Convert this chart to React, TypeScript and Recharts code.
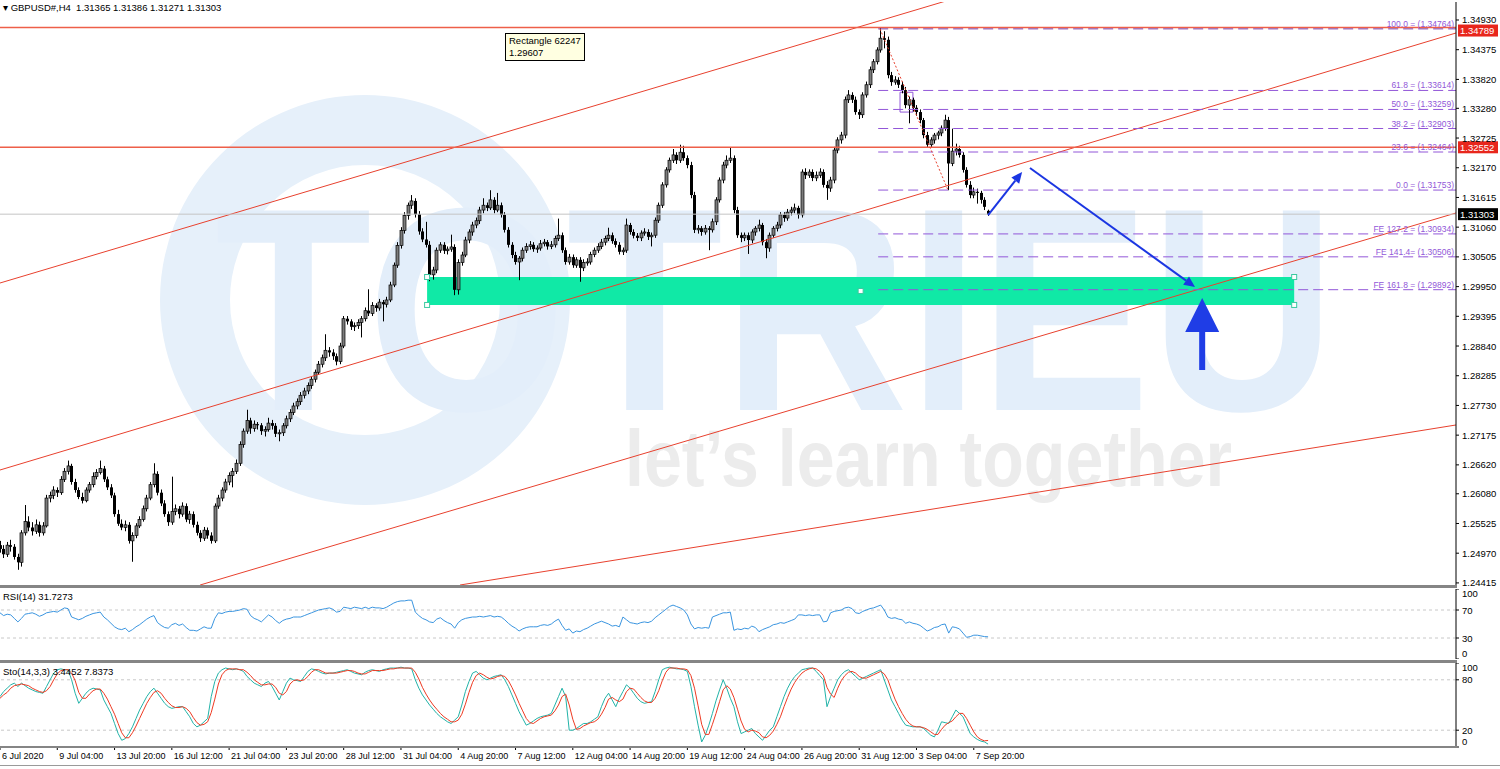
import React from "react";
import {
  ComposedChart,
  LineChart,
  Bar,
  Line,
  XAxis,
  YAxis,
  ReferenceLine,
  ReferenceArea,
  ReferenceDot,
} from "recharts";

// -------------------------
// THEME
// -------------------------
const FONT = '"Liberation Sans", Arial, sans-serif';
const H_RED = "#ee5f49";
const CH_RED = "#e8412e";
const FIB = "#9257d8";
const BLUE = "#1b36e2";
const MINT = "#10e9a6";

const X_MAX = 406.7;
const Y_MIN = 1.24376;
const Y_MAX = 1.35266;

// -------------------------
// DATA
// -------------------------
// H4 candles [open, high, low, close]
const candles: number[][] = [
  [1.2512, 1.252, 1.2498, 1.2505], [1.2505, 1.2512, 1.2488, 1.2495], [1.2495, 1.2518, 1.249, 1.2512], [1.2512, 1.2522, 1.25, 1.2509],
  [1.2509, 1.2514, 1.2485, 1.249], [1.249, 1.2496, 1.2466, 1.248], [1.248, 1.254, 1.2472, 1.2535], [1.2535, 1.2587, 1.253, 1.2556],
  [1.2556, 1.2566, 1.2538, 1.2545], [1.2545, 1.2555, 1.253, 1.2538], [1.2538, 1.256, 1.2533, 1.255], [1.255, 1.2556, 1.2528, 1.2535],
  [1.2535, 1.2555, 1.253, 1.2548], [1.2548, 1.2606, 1.2545, 1.26], [1.26, 1.2612, 1.2592, 1.2605], [1.2605, 1.2622, 1.2598, 1.2615],
  [1.2615, 1.262, 1.2602, 1.261], [1.261, 1.2641, 1.2606, 1.2635], [1.2635, 1.2656, 1.263, 1.265], [1.265, 1.267, 1.2644, 1.266],
  [1.266, 1.2664, 1.2625, 1.263], [1.263, 1.2636, 1.261, 1.2615], [1.2615, 1.262, 1.2598, 1.2602], [1.2602, 1.261, 1.259, 1.2595],
  [1.2595, 1.262, 1.2592, 1.2615], [1.2615, 1.263, 1.261, 1.2625], [1.2625, 1.2648, 1.262, 1.264], [1.264, 1.2654, 1.2635, 1.2648],
  [1.2648, 1.267, 1.2644, 1.2655], [1.2655, 1.266, 1.263, 1.2635], [1.2635, 1.264, 1.2615, 1.262], [1.262, 1.2626, 1.26, 1.2605],
  [1.2605, 1.261, 1.2565, 1.257], [1.257, 1.2578, 1.2548, 1.2552], [1.2552, 1.256, 1.254, 1.2545], [1.2545, 1.2558, 1.2538, 1.255],
  [1.255, 1.2555, 1.2515, 1.252], [1.252, 1.2536, 1.2481, 1.253], [1.253, 1.2553, 1.2525, 1.2548], [1.2548, 1.2566, 1.2544, 1.256],
  [1.256, 1.2586, 1.2556, 1.258], [1.258, 1.2606, 1.2575, 1.26], [1.26, 1.263, 1.2596, 1.2625], [1.2625, 1.2665, 1.262, 1.2645],
  [1.2645, 1.265, 1.2605, 1.261], [1.261, 1.2616, 1.2585, 1.259], [1.259, 1.2596, 1.2565, 1.257], [1.257, 1.2575, 1.2548, 1.2555],
  [1.2555, 1.264, 1.255, 1.2575], [1.2575, 1.2588, 1.2568, 1.258], [1.258, 1.2585, 1.2562, 1.257], [1.257, 1.2592, 1.2565, 1.2585],
  [1.2585, 1.259, 1.2555, 1.256], [1.256, 1.2576, 1.2552, 1.257], [1.257, 1.2575, 1.2545, 1.255], [1.255, 1.2556, 1.253, 1.2535],
  [1.2535, 1.254, 1.2518, 1.2525], [1.2525, 1.2546, 1.252, 1.254], [1.254, 1.2545, 1.2524, 1.253], [1.253, 1.2536, 1.2515, 1.252],
  [1.252, 1.259, 1.2516, 1.2585], [1.2585, 1.2606, 1.258, 1.26], [1.26, 1.262, 1.2594, 1.2615], [1.2615, 1.2636, 1.261, 1.263],
  [1.263, 1.2648, 1.2624, 1.2642], [1.2642, 1.2656, 1.262, 1.265], [1.265, 1.2672, 1.2645, 1.2665], [1.2665, 1.2706, 1.266, 1.27],
  [1.27, 1.273, 1.2694, 1.2725], [1.2725, 1.2765, 1.272, 1.2745], [1.2745, 1.275, 1.272, 1.273], [1.273, 1.2745, 1.2724, 1.2738],
  [1.2738, 1.2742, 1.2728, 1.2736], [1.2736, 1.274, 1.2718, 1.2725], [1.2725, 1.2734, 1.2715, 1.2728], [1.2728, 1.275, 1.2724, 1.274],
  [1.274, 1.2746, 1.2728, 1.2735], [1.2735, 1.274, 1.2714, 1.272], [1.272, 1.2728, 1.2706, 1.2722], [1.2722, 1.274, 1.2716, 1.2735],
  [1.2735, 1.2754, 1.273, 1.2748], [1.2748, 1.2766, 1.2742, 1.276], [1.276, 1.2778, 1.2755, 1.2772], [1.2772, 1.2786, 1.2766, 1.278],
  [1.278, 1.2798, 1.2774, 1.2792], [1.2792, 1.2806, 1.2786, 1.28], [1.28, 1.2816, 1.2794, 1.281], [1.281, 1.2828, 1.2804, 1.2822],
  [1.2822, 1.284, 1.2816, 1.2835], [1.2835, 1.2856, 1.283, 1.285], [1.285, 1.2868, 1.2844, 1.2862], [1.2862, 1.2906, 1.2856, 1.2876],
  [1.2876, 1.2882, 1.2864, 1.2872], [1.2872, 1.2878, 1.2858, 1.2865], [1.2865, 1.287, 1.2848, 1.2855], [1.2855, 1.289, 1.285, 1.2884],
  [1.2884, 1.294, 1.288, 1.2935], [1.2935, 1.294, 1.2924, 1.293], [1.293, 1.2934, 1.2914, 1.292], [1.292, 1.2928, 1.2912, 1.2922],
  [1.2922, 1.2934, 1.2916, 1.2928], [1.2928, 1.294, 1.29, 1.2935], [1.2935, 1.2956, 1.293, 1.295], [1.295, 1.299, 1.294, 1.2945],
  [1.2945, 1.2966, 1.294, 1.296], [1.296, 1.2964, 1.2948, 1.2955], [1.2955, 1.2972, 1.295, 1.2966], [1.2966, 1.297, 1.293, 1.2962],
  [1.2962, 1.2976, 1.2956, 1.297], [1.297, 1.3004, 1.2966, 1.2998], [1.2998, 1.304, 1.2994, 1.3035], [1.3035, 1.3078, 1.303, 1.3072],
  [1.3072, 1.3106, 1.3066, 1.31], [1.31, 1.3134, 1.3094, 1.3128], [1.3128, 1.3152, 1.312, 1.3147], [1.3147, 1.3166, 1.314, 1.3155],
  [1.3155, 1.316, 1.3124, 1.313], [1.313, 1.3136, 1.3092, 1.3098], [1.3098, 1.3104, 1.3078, 1.3083], [1.3083, 1.3116, 1.3068, 1.3073],
  [1.3073, 1.308, 1.3005, 1.3017], [1.3017, 1.3032, 1.3008, 1.3026], [1.3026, 1.3068, 1.302, 1.3063], [1.3063, 1.3078, 1.3058, 1.3073],
  [1.3073, 1.3078, 1.3056, 1.3062], [1.3062, 1.307, 1.3055, 1.3065], [1.3065, 1.3092, 1.306, 1.3069], [1.3069, 1.3074, 1.2979, 1.2989],
  [1.2989, 1.3046, 1.298, 1.304], [1.304, 1.306, 1.3034, 1.3054], [1.3054, 1.3088, 1.305, 1.3082], [1.3082, 1.3102, 1.3076, 1.3097],
  [1.3097, 1.3116, 1.309, 1.311], [1.311, 1.3124, 1.3104, 1.3118], [1.3118, 1.3144, 1.3112, 1.3138], [1.3138, 1.316, 1.3132, 1.3147],
  [1.3147, 1.3152, 1.3136, 1.3142], [1.3142, 1.3175, 1.3138, 1.3157], [1.3157, 1.3162, 1.3132, 1.3138], [1.3138, 1.317, 1.3134, 1.3147],
  [1.3147, 1.3152, 1.3124, 1.3129], [1.3129, 1.3134, 1.3096, 1.3101], [1.3101, 1.3106, 1.3068, 1.3073], [1.3073, 1.3078, 1.3048, 1.3054],
  [1.3054, 1.306, 1.3036, 1.3041], [1.3041, 1.3052, 1.3007, 1.3048], [1.3048, 1.3068, 1.3042, 1.3063], [1.3063, 1.3076, 1.3058, 1.307],
  [1.307, 1.308, 1.3064, 1.3073], [1.3073, 1.3078, 1.306, 1.3065], [1.3065, 1.3072, 1.3058, 1.3067], [1.3067, 1.3082, 1.3062, 1.3075],
  [1.3075, 1.3084, 1.307, 1.3078], [1.3078, 1.3082, 1.3064, 1.307], [1.307, 1.308, 1.3065, 1.3073], [1.3073, 1.309, 1.3068, 1.3085],
  [1.3085, 1.3122, 1.308, 1.3091], [1.3091, 1.3096, 1.3058, 1.3063], [1.3063, 1.3068, 1.3036, 1.3041], [1.3041, 1.3056, 1.3036, 1.305],
  [1.305, 1.3055, 1.303, 1.3035], [1.3035, 1.305, 1.303, 1.3045], [1.3045, 1.305, 1.3004, 1.303], [1.303, 1.3046, 1.3024, 1.304],
  [1.304, 1.3048, 1.3034, 1.3041], [1.3041, 1.306, 1.3036, 1.3055], [1.3055, 1.3068, 1.305, 1.3063], [1.3063, 1.3076, 1.3058, 1.307],
  [1.307, 1.3084, 1.3065, 1.3078], [1.3078, 1.309, 1.3072, 1.3085], [1.3085, 1.3105, 1.308, 1.3091], [1.3091, 1.3096, 1.3075, 1.308],
  [1.308, 1.3085, 1.3068, 1.3073], [1.3073, 1.3078, 1.3055, 1.306], [1.306, 1.3068, 1.3054, 1.3063], [1.3063, 1.3122, 1.3058, 1.311],
  [1.311, 1.3114, 1.3092, 1.3097], [1.3097, 1.3102, 1.3085, 1.309], [1.309, 1.3095, 1.308, 1.3086], [1.3086, 1.31, 1.308, 1.3095],
  [1.3095, 1.3104, 1.309, 1.3097], [1.3097, 1.3102, 1.3082, 1.3088], [1.3088, 1.3096, 1.307, 1.3091], [1.3091, 1.3124, 1.3086, 1.3119],
  [1.3119, 1.3152, 1.3114, 1.3147], [1.3147, 1.319, 1.3142, 1.3185], [1.3185, 1.3218, 1.318, 1.3213], [1.3213, 1.3236, 1.3208, 1.3231],
  [1.3231, 1.3252, 1.3226, 1.3241], [1.3241, 1.3246, 1.3224, 1.3231], [1.3231, 1.326, 1.3226, 1.3246], [1.3246, 1.3258, 1.323, 1.3235],
  [1.3235, 1.324, 1.3216, 1.3222], [1.3222, 1.3228, 1.316, 1.3166], [1.3166, 1.3172, 1.3095, 1.3101], [1.3101, 1.311, 1.3094, 1.3104],
  [1.3104, 1.3108, 1.309, 1.3097], [1.3097, 1.311, 1.3092, 1.3104], [1.3104, 1.3108, 1.3063, 1.3101], [1.3101, 1.3122, 1.3096, 1.3116],
  [1.3116, 1.3162, 1.311, 1.3157], [1.3157, 1.3199, 1.3152, 1.3194], [1.3194, 1.3228, 1.3188, 1.3222], [1.3222, 1.324, 1.3216, 1.3231],
  [1.3231, 1.3255, 1.3226, 1.3235], [1.3235, 1.324, 1.3132, 1.3138], [1.3138, 1.3144, 1.3086, 1.3091], [1.3091, 1.3096, 1.3078, 1.3086],
  [1.3086, 1.3096, 1.308, 1.3091], [1.3091, 1.3096, 1.3056, 1.3082], [1.3082, 1.3102, 1.3076, 1.3097], [1.3097, 1.3108, 1.309, 1.3104],
  [1.3104, 1.312, 1.3098, 1.311], [1.311, 1.3114, 1.3072, 1.3078], [1.3078, 1.3084, 1.3048, 1.3067], [1.3067, 1.3096, 1.306, 1.3091],
  [1.3091, 1.3108, 1.3086, 1.3104], [1.3104, 1.3116, 1.3098, 1.311], [1.311, 1.3134, 1.3104, 1.3129], [1.3129, 1.3134, 1.3116, 1.3123],
  [1.3123, 1.314, 1.3118, 1.3134], [1.3134, 1.3144, 1.3128, 1.3138], [1.3138, 1.315, 1.3132, 1.3142], [1.3142, 1.3146, 1.3122, 1.3129],
  [1.3129, 1.3214, 1.3124, 1.3209], [1.3209, 1.3216, 1.3196, 1.3203], [1.3203, 1.3214, 1.3198, 1.3209], [1.3209, 1.3214, 1.3192, 1.3198],
  [1.3198, 1.321, 1.3192, 1.3203], [1.3203, 1.3216, 1.3198, 1.3209], [1.3209, 1.3214, 1.318, 1.3185], [1.3185, 1.3192, 1.3157, 1.3179],
  [1.3179, 1.32, 1.3172, 1.3194], [1.3194, 1.3256, 1.3188, 1.325], [1.325, 1.3274, 1.3244, 1.3269], [1.3269, 1.3284, 1.3262, 1.3278],
  [1.3278, 1.335, 1.3272, 1.3344], [1.3344, 1.3362, 1.3338, 1.3353], [1.3353, 1.3358, 1.3338, 1.3344], [1.3344, 1.335, 1.3316, 1.3321],
  [1.3321, 1.3326, 1.3308, 1.3316], [1.3316, 1.3358, 1.331, 1.3353], [1.3353, 1.3378, 1.3348, 1.3372], [1.3372, 1.3406, 1.3366, 1.34],
  [1.34, 1.342, 1.3394, 1.3415], [1.3415, 1.3442, 1.341, 1.3437], [1.3437, 1.3479, 1.3432, 1.3459], [1.3459, 1.3472, 1.344, 1.3456],
  [1.3456, 1.3462, 1.3384, 1.339], [1.339, 1.3396, 1.337, 1.3377], [1.3377, 1.3388, 1.3372, 1.3381], [1.3381, 1.3386, 1.3366, 1.3372],
  [1.3372, 1.3378, 1.3356, 1.3362], [1.3362, 1.3368, 1.3328, 1.3334], [1.3334, 1.335, 1.33, 1.3344], [1.3344, 1.3348, 1.3322, 1.3329],
  [1.3329, 1.3334, 1.3314, 1.3321], [1.3321, 1.3326, 1.33, 1.3306], [1.3306, 1.331, 1.3272, 1.3278], [1.3278, 1.3284, 1.3254, 1.326],
  [1.326, 1.3274, 1.3255, 1.3269], [1.3269, 1.3282, 1.3262, 1.3278], [1.3278, 1.3286, 1.327, 1.3282], [1.3282, 1.3296, 1.3276, 1.3291],
  [1.3291, 1.3316, 1.3286, 1.3306], [1.3306, 1.3312, 1.3175, 1.3225], [1.3225, 1.329, 1.322, 1.3248], [1.3248, 1.3262, 1.324, 1.3252],
  [1.3252, 1.3258, 1.3236, 1.3241], [1.3241, 1.3246, 1.3208, 1.3213], [1.3213, 1.3218, 1.318, 1.3185], [1.3185, 1.3192, 1.316, 1.3166],
  [1.3166, 1.318, 1.316, 1.3172], [1.3172, 1.3178, 1.315, 1.317], [1.317, 1.3174, 1.315, 1.3157], [1.3157, 1.3162, 1.3138, 1.3144],
  [1.31365, 1.31386, 1.31271, 1.31303],
];

const rsi: number[] = [
  66, 62, 64, 63, 58, 53, 58, 64, 65, 66, 64, 61, 63, 66, 67, 68, 67, 70, 73, 72,
  60, 58, 56, 58, 61, 63, 65, 66, 67, 60, 56, 51, 46, 43, 42, 44, 39, 42, 46, 49,
  53, 57, 60, 62, 52, 48, 45, 44, 49, 51, 48, 50, 45, 41, 41, 40, 43, 46, 44, 44,
  58, 66, 65, 67, 68, 68, 69, 70, 72, 71, 62, 58, 56, 53, 58, 63, 60, 55, 51, 55,
  57, 58, 60, 60, 60, 62, 64, 66, 68, 70, 71, 72, 73, 71, 67, 68, 74, 73, 72, 74,
  73, 72, 74, 72, 74, 73, 73, 72, 74, 77, 80, 82, 83, 83, 84, 84, 67, 62, 58, 56,
  53, 52, 57, 59, 55, 52, 50, 44, 52, 56, 58, 59, 60, 60, 61, 60, 61, 62, 60, 61,
  60, 56, 51, 47, 44, 40, 43, 45, 46, 46, 46, 48, 49, 48, 50, 54, 57, 48, 41, 43,
  37, 40, 39, 42, 44, 47, 50, 52, 54, 52, 50, 47, 48, 46, 60, 56, 52, 51, 50, 52,
  53, 52, 54, 59, 63, 67, 71, 75, 77, 75, 73, 70, 63, 50, 43, 45, 44, 45, 44, 60,
  62, 64, 66, 66, 67, 41, 43, 42, 44, 43, 47, 45, 39, 42, 44, 46, 49, 50, 52, 51,
  53, 55, 57, 63, 63, 62, 63, 62, 63, 63, 53, 54, 66, 68, 69, 70, 73, 74, 72, 66,
  65, 68, 70, 72, 73, 75, 77, 70, 60, 58, 59, 57, 56, 51, 53, 51, 50, 48, 44, 40,
  42, 45, 46, 49, 50, 37, 46, 45, 43, 37, 31, 32, 34, 34, 33, 32, 31.7,
];

const stochK: number[] = [
  60, 66, 70, 74, 76, 72, 76, 73, 70, 68, 66, 65, 64, 72, 80, 88, 92, 93, 92, 92,
  80, 64, 52, 58, 64, 68, 70, 69, 68, 56, 48, 40, 28, 16, 8, 10, 16, 24, 34, 44,
  52, 60, 66, 70, 64, 58, 52, 48, 46, 47, 48, 48, 42, 36, 28, 24, 26, 30, 34, 60,
  78, 88, 92, 94, 93, 92, 93, 92, 90, 84, 80, 76, 74, 72, 76, 78, 72, 64, 56, 66,
  76, 82, 80, 79, 78, 84, 90, 93, 92, 90, 88, 87, 88, 88, 89, 90, 91, 92, 90, 88,
  87, 86, 89, 91, 92, 91, 90, 92, 93, 94, 94, 94, 95, 94, 94, 93, 80, 70, 62, 56,
  50, 45, 40, 36, 33, 30, 28, 32, 36, 50, 66, 78, 88, 90, 86, 82, 80, 82, 84, 85,
  86, 80, 72, 62, 52, 42, 34, 26, 28, 31, 34, 36, 37, 38, 40, 50, 60, 70, 60, 20,
  20, 22, 25, 28, 28, 30, 33, 36, 48, 58, 64, 56, 48, 58, 66, 74, 70, 64, 58, 54,
  52, 53, 54, 66, 80, 92, 94, 95, 94, 93, 93, 92, 90, 72, 48, 26, 6, 14, 26, 40,
  55, 68, 80, 70, 58, 48, 30, 16, 18, 20, 22, 16, 12, 8, 14, 20, 24, 36, 48, 60,
  70, 78, 84, 88, 92, 93, 94, 94, 90, 85, 80, 48, 60, 70, 80, 86, 90, 92, 88, 84,
  80, 82, 84, 86, 88, 90, 92, 80, 68, 56, 48, 40, 32, 26, 25, 24, 24, 24, 22, 18,
  14, 12, 20, 30, 29, 28, 36, 44, 40, 36, 26, 16, 12, 9, 7, 6, 3.4452,
];

const stochD: number[] = [
  58, 62, 65, 70, 73, 74, 75, 74, 73, 70, 68, 66, 65, 67, 72, 80, 87, 91, 92, 92,
  88, 79, 65, 58, 58, 63, 67, 69, 69, 64, 57, 48, 39, 28, 17, 11, 11, 17, 25, 34,
  43, 52, 59, 65, 67, 64, 58, 53, 49, 47, 47, 48, 46, 42, 35, 29, 26, 27, 30, 41,
  57, 75, 86, 91, 93, 93, 93, 92, 92, 89, 85, 80, 77, 74, 74, 75, 75, 71, 64, 62,
  66, 75, 79, 80, 79, 80, 84, 89, 92, 92, 90, 88, 88, 88, 88, 89, 90, 91, 91, 90,
  88, 87, 87, 89, 91, 91, 91, 91, 92, 93, 93, 94, 94, 94, 94, 94, 89, 81, 71, 63,
  56, 50, 45, 40, 36, 33, 30, 30, 32, 39, 51, 65, 77, 85, 88, 86, 83, 81, 82, 84,
  85, 84, 79, 71, 62, 52, 43, 34, 29, 28, 31, 34, 36, 37, 38, 43, 50, 60, 63, 50,
  33, 21, 22, 25, 27, 29, 30, 33, 39, 47, 57, 59, 56, 54, 57, 66, 70, 69, 64, 59,
  55, 53, 53, 58, 67, 79, 89, 94, 94, 94, 93, 93, 92, 85, 70, 49, 27, 15, 15, 27,
  40, 54, 68, 73, 69, 59, 45, 31, 21, 18, 20, 19, 17, 12, 11, 14, 19, 27, 36, 48,
  59, 69, 77, 83, 88, 91, 93, 94, 93, 90, 85, 71, 63, 59, 70, 79, 85, 89, 90, 88,
  84, 82, 82, 84, 86, 88, 90, 87, 80, 68, 57, 48, 40, 33, 28, 25, 24, 24, 23, 21,
  18, 15, 15, 21, 26, 29, 31, 36, 40, 40, 34, 26, 18, 12, 9, 7.3, 7.8373,
];

const dateLabels = [
  "6 Jul 2020", "9 Jul 04:00", "13 Jul 20:00", "16 Jul 12:00", "21 Jul 04:00", "23 Jul 20:00",
  "28 Jul 12:00", "31 Jul 04:00", "4 Aug 20:00", "7 Aug 12:00", "12 Aug 04:00", "14 Aug 20:00",
  "19 Aug 12:00", "24 Aug 04:00", "26 Aug 20:00", "31 Aug 12:00", "3 Sep 04:00", "7 Sep 20:00",
];
const labelIdx = [0, 16, 32, 48, 64, 80, 96, 112, 128, 144, 160, 176, 192, 208, 224, 240, 256, 272];

const priceTicks = [
  1.3493, 1.34375, 1.3382, 1.3328, 1.32725, 1.3217, 1.31615, 1.3106, 1.30505, 1.2995,
  1.29395, 1.2884, 1.28285, 1.2773, 1.27175, 1.2662, 1.2608, 1.25525, 1.2497, 1.24415,
];

const fibNames = [
  "100.0 = (1.34764)", "61.8 = (1.33614)", "50.0 = (1.33259)", "38.2 = (1.32903)", "23.6 = (1.32464)",
  "0.0 = (1.31753)", "FE 127.2 = (1.30934)", "FE 141.4= (1.30506)", "FE 161.8 = (1.29892)",
];
const fibValues = [1.34764, 1.33614, 1.33259, 1.32903, 1.32464, 1.31753, 1.30934, 1.30506, 1.29892];
const fibStart = 245.3;

// channel lines [x1, y1, x2, y2] in bar index / price
const channelLines = [
  [0, 1.30017, 307.3, 1.36144],
  [0, 1.26524, 406.7, 1.34687],
  [55.9, 1.24376, 406.7, 1.31325],
  [128.5, 1.24376, 406.7, 1.27365],
];

const zone = { x1: 119.3, x2: 361.5, y1: 1.29607, y2: 1.30129 };
const arrows = [
  [276.0, 1.31287, 285.5, 1.32091],
  [287.7, 1.32165, 333.8, 1.29942],
];
const bigArrow = { x: 335.8, from: 1.28392, to: 1.29737 };

const rows = candles.map(([o, h, l, c], i) => ({
  i,
  o,
  h,
  l,
  c,
  rsi: rsi[i],
  k: stochK[i],
  d: stochD[i],
}));

// -------------------------
// SHAPES
// -------------------------
const Candle = (props: any) => {
  const { x, y, width, height, payload } = props;
  if (x == null || y == null) return null;
  const { o, h, l, c } = payload;
  const cx = Math.round(x + width / 2) + 0.5;
  const ppu = height / (h - l || 1e-9);
  const yO = y + (h - o) * ppu;
  const yC = y + (h - c) * ppu;
  const top = Math.min(yO, yC);
  const bh = Math.max(1, Math.abs(yO - yC));
  const up = c >= o;
  return (
    <g>
      <line x1={cx} x2={cx} y1={y} y2={y + height} stroke="#000" strokeWidth={1} />
      <rect
        x={cx - 1.5}
        y={top}
        width={3}
        height={bh}
        fill={up ? "#7c7c7c" : "#000"}
        stroke="#000"
        strokeWidth={up ? 0.7 : 0}
      />
    </g>
  );
};

const priceBox = (bg: string, text: string, shift = 0) => (props: any) => {
  const { x1, x2, y1 } = props;
  const right = Math.max(x1, x2);
  const left = Math.min(x1, x2);
  return (
    <g>
      <line x1={left} x2={right} y1={y1} y2={y1} stroke={props.stroke} strokeWidth={props.strokeWidth} />
      <rect x={right + 2} y={y1 - 6 + shift} width={40} height={12} fill={bg} />
      <text x={right + 4} y={y1 + 3.5 + shift} fontSize={9.5} fontFamily={FONT} fill="#fff">
        {text}
      </text>
    </g>
  );
};

const fibShape = (name: string, dark: boolean) => (props: any) => {
  const { x1, x2, y1 } = props;
  const right = Math.max(x1, x2);
  const left = Math.min(x1, x2);
  return (
    <g>
      <line
        x1={left}
        x2={right}
        y1={y1}
        y2={y1}
        stroke={dark ? "#7b3fa8" : FIB}
        strokeWidth={1}
        strokeDasharray="10 5"
      />
      <text x={right - 2} y={y1 - 2} fontSize={8.5} fontFamily={FONT} fill={FIB} textAnchor="end">
        {name}
      </text>
    </g>
  );
};

const arrowShape = (props: any) => {
  const { x1, y1, x2, y2 } = props;
  const ang = Math.atan2(y2 - y1, x2 - x1);
  const len = 11;
  const wing = 5;
  const bx = x2 - len * Math.cos(ang);
  const by = y2 - len * Math.sin(ang);
  const px = -Math.sin(ang) * wing;
  const py = Math.cos(ang) * wing;
  return (
    <g>
      <line x1={x1} y1={y1} x2={bx} y2={by} stroke={BLUE} strokeWidth={2} />
      <polygon points={`${x2},${y2} ${bx + px},${by + py} ${bx - px},${by - py}`} fill={BLUE} />
    </g>
  );
};

const bigArrowShape = (props: any) => {
  const { x1, y1, y2 } = props;
  const tip = Math.min(y1, y2);
  const tail = Math.max(y1, y2);
  const base = tip + 34;
  return (
    <g>
      <rect x={x1 - 3} y={base - 1} width={6} height={tail - base + 1} fill="#1f3de6" />
      <polygon points={`${x1},${tip} ${x1 - 17},${base} ${x1 + 17},${base}`} fill="#1f3de6" />
    </g>
  );
};

const Handle = (props: any) => {
  const { cx, cy } = props;
  return <rect x={cx - 2.5} y={cy - 2.5} width={5} height={5} fill="#fff" stroke="#3cc9a0" strokeWidth={1} />;
};

const PriceTick = (props: any) => {
  const { x, y, payload } = props;
  return (
    <text x={x + 1} y={y + 3.5} fontSize={9.5} fontFamily={FONT} fill="#000">
      {Number(payload.value).toFixed(5)}
    </text>
  );
};

const indTick = (top: number, bottom: number) => (props: any) => {
  const { x, y, payload } = props;
  let dy = 3.5;
  if (payload.value === top) dy = 8;
  if (payload.value === bottom) dy = -2;
  return (
    <text x={x + 1} y={y + dy} fontSize={9.5} fontFamily={FONT} fill="#000">
      {payload.value}
    </text>
  );
};

const DateTick = (props: any) => {
  const { x, y, payload } = props;
  const k = labelIdx.indexOf(payload.value);
  return (
    <text x={x + 2} y={y + 9} fontSize={9} fontFamily={FONT} fill="#000">
      {dateLabels[k]}
    </text>
  );
};

const label: React.CSSProperties = {
  position: "absolute",
  fontFamily: FONT,
  fontSize: 9.5,
  color: "#000",
  whiteSpace: "nowrap",
  lineHeight: "11px",
};

export default function App() {
  return (
    <div
      style={{
        position: "absolute",
        left: 0,
        top: 0,
        width: 1500,
        height: 769,
        background: "#fff",
        overflow: "hidden",
      }}
    >
      {/* WATERMARK */}
      <svg width={1500} height={587} style={{ position: "absolute", left: 0, top: 0 }}>
        <circle cx={365} cy={300} r={170} fill="none" stroke="#e6f0fa" strokeWidth={70} />
        <text
          transform="translate(215,410) scale(0.884,1)"
          x={0}
          y={0}
          fontSize={290}
          fontWeight="bold"
          fontFamily={FONT}
          fill="#e3eefa"
        >
          TOTRIEU
        </text>
        <text
          transform="translate(625,486) scale(0.852,1)"
          x={0}
          y={0}
          fontSize={80}
          fontWeight="bold"
          fontFamily={FONT}
          fill="#ececec"
        >
          let’s learn together
        </text>
      </svg>

      {/* MAIN PRICE CHART */}
      <div style={{ position: "absolute", left: 0, top: 0 }}>
        <ComposedChart width={1500} height={587} data={rows} margin={{ top: 2, right: 0, bottom: 2, left: 0 }}>
          <XAxis dataKey="i" type="number" domain={[0, X_MAX]} allowDataOverflow hide />
          <YAxis
            orientation="right"
            width={44}
            type="number"
            domain={[Y_MIN, Y_MAX]}
            allowDataOverflow
            ticks={priceTicks}
            interval={0}
            tick={PriceTick}
            tickSize={3}
            tickMargin={2}
            axisLine={{ stroke: "#000" }}
            tickLine={{ stroke: "#000" }}
          />

          <ReferenceArea
            x1={zone.x1}
            x2={zone.x2}
            y1={zone.y1}
            y2={zone.y2}
            fill={MINT}
            fillOpacity={1}
            stroke="none"
          />
          <ReferenceArea x1={251.4} x2={255.0} y1={1.3321} y2={1.3358} fill="none" stroke={FIB} strokeWidth={1} />

          {channelLines.map((s, n) => (
            <ReferenceLine
              key={`ch${n}`}
              segment={[{ x: s[0], y: s[1] }, { x: s[2], y: s[3] }]}
              stroke={CH_RED}
              strokeWidth={1}
              ifOverflow="hidden"
            />
          ))}

          <ReferenceLine y={1.31303} stroke="#c4c4c4" strokeWidth={1} shape={priceBox("#000", "1.31303")} />
          <ReferenceLine y={1.34789} stroke={H_RED} strokeWidth={1.5} shape={priceBox("#e8261c", "1.34789", 3)} />
          <ReferenceLine y={1.32552} stroke={H_RED} strokeWidth={1.5} shape={priceBox("#e8261c", "1.32552")} />

          {fibValues.map((v, n) => (
            <ReferenceLine
              key={`fib${n}`}
              segment={[{ x: fibStart, y: v }, { x: X_MAX, y: v }]}
              shape={fibShape(fibNames[n], n === 0)}
            />
          ))}

          <ReferenceLine
            segment={[{ x: 245.8, y: 1.34764 }, { x: 264.8, y: 1.31753 }]}
            stroke={CH_RED}
            strokeWidth={1}
            strokeDasharray="2 2"
          />

          <Bar dataKey={(d: any) => [d.l, d.h]} barSize={3} shape={Candle} isAnimationActive={false} />

          {arrows.map((a, n) => (
            <ReferenceLine
              key={`ar${n}`}
              segment={[{ x: a[0], y: a[1] }, { x: a[2], y: a[3] }]}
              shape={arrowShape}
            />
          ))}
          <ReferenceLine
            segment={[{ x: bigArrow.x, y: bigArrow.from }, { x: bigArrow.x, y: bigArrow.to }]}
            shape={bigArrowShape}
          />

          <ReferenceDot x={zone.x1} y={zone.y2} shape={Handle} />
          <ReferenceDot x={zone.x1} y={zone.y1} shape={Handle} />
          <ReferenceDot x={zone.x2} y={zone.y2} shape={Handle} />
          <ReferenceDot x={zone.x2} y={zone.y1} shape={Handle} />
          <ReferenceDot x={(zone.x1 + zone.x2) / 2} y={(zone.y1 + zone.y2) / 2} shape={Handle} />
        </ComposedChart>
      </div>

      {/* RSI */}
      <div style={{ position: "absolute", left: 0, top: 589 }}>
        <LineChart width={1500} height={70} data={rows} margin={{ top: 0, right: 0, bottom: 0, left: 0 }}>
          <XAxis dataKey="i" type="number" domain={[0, X_MAX]} allowDataOverflow hide />
          <YAxis
            orientation="right"
            width={44}
            domain={[0, 100]}
            ticks={[0, 30, 70, 100]}
            interval={0}
            tick={indTick(100, 0)}
            tickSize={3}
            tickMargin={2}
            axisLine={{ stroke: "#000" }}
            tickLine={{ stroke: "#000" }}
          />
          <ReferenceLine y={70} stroke="#c8c8c8" strokeDasharray="3 3" />
          <ReferenceLine y={30} stroke="#c8c8c8" strokeDasharray="3 3" />
          <Line dataKey="rsi" stroke="#3a95e0" strokeWidth={1} dot={false} isAnimationActive={false} />
        </LineChart>
      </div>

      {/* STOCHASTIC */}
      <div style={{ position: "absolute", left: 0, top: 663 }}>
        <LineChart width={1500} height={104} data={rows} margin={{ top: 0, right: 0, bottom: 0, left: 0 }}>
          <XAxis
            dataKey="i"
            type="number"
            domain={[0, X_MAX]}
            allowDataOverflow
            ticks={labelIdx}
            interval={0}
            height={20}
            tick={DateTick}
            tickSize={3}
            tickMargin={0}
            axisLine={false}
            tickLine={{ stroke: "#000" }}
          />
          <YAxis
            orientation="right"
            width={44}
            domain={[0, 100]}
            ticks={[0, 20, 80, 100]}
            interval={0}
            tick={indTick(100, 0)}
            tickSize={3}
            tickMargin={2}
            axisLine={{ stroke: "#000" }}
            tickLine={{ stroke: "#000" }}
          />
          <ReferenceLine y={80} stroke="#c8c8c8" strokeDasharray="3 3" />
          <ReferenceLine y={20} stroke="#c8c8c8" strokeDasharray="3 3" />
          <Line dataKey="k" stroke="#22b3a8" strokeWidth={1} dot={false} isAnimationActive={false} />
          <Line dataKey="d" stroke="#ee3a22" strokeWidth={1} dot={false} isAnimationActive={false} />
        </LineChart>
      </div>

      {/* PANEL SEPARATORS */}
      <div style={{ position: "absolute", left: 0, top: 585, width: 1457, height: 3, background: "#858585" }} />
      <div style={{ position: "absolute", left: 0, top: 660, width: 1457, height: 3, background: "#858585" }} />
      <div style={{ position: "absolute", left: 0, top: 746, width: 1457, height: 2, background: "#858585" }} />
      <div style={{ position: "absolute", left: 0, top: 765, width: 1500, height: 1, background: "#9a9a9a" }} />

      {/* TEXT OVERLAYS */}
      <div style={{ ...label, left: 3, top: 2 }}>▾ GBPUSD#,H4&nbsp; 1.31365 1.31386 1.31271 1.31303</div>
      <div style={{ ...label, left: 3, top: 591 }}>RSI(14) 31.7273</div>
      <div style={{ ...label, left: 3, top: 666 }}>Sto(14,3,3) 3.4452 7.8373</div>

      <div
        style={{
          ...label,
          left: 505,
          top: 33,
          padding: "1px 3px",
          background: "#ffffe1",
          border: "1px solid #000",
          lineHeight: "12px",
        }}
      >
        Rectangle 62247
        <br />
        1.29607
      </div>
    </div>
  );
}
